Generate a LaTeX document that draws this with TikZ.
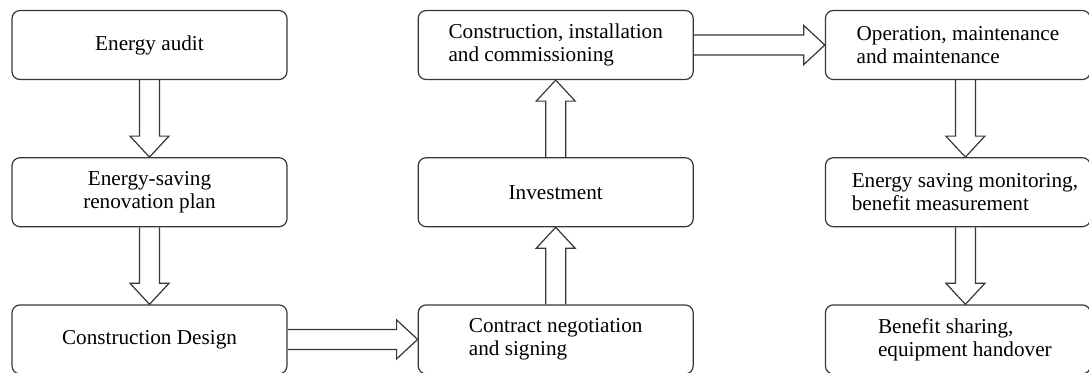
\documentclass[tikz,border=0pt]{standalone}
\usepackage{fontspec}
\setmainfont{Liberation Serif}
\usetikzlibrary{positioning, calc}
\definecolor{boxline}{RGB}{55,55,55}
\tikzset{
  stepbox/.style={
    rectangle, rounded corners=4pt,
    draw=boxline, line width=0.6pt,
    fill=white,
    minimum height=34.5pt, minimum width=137.5pt,
    align=center, font=\fontsize{10.6}{11.5}\selectfont, inner sep=2pt
  },
  stepbox-left/.style={stepbox, align=left},
  stepbox-narrow/.style={stepbox-left, minimum width=132.5pt},
  hollowarrow/.style={
    draw=boxline, line width=0.6pt, line join=miter
  }
}
% outline arrow from #1 to #2 (shaft 10pt, head 19.5pt wide, 10.5pt long)
\newcommand{\fatarrow}[2]{%
  \path ($(#2)!10.5pt!(#1)$) coordinate (hb);
  \draw[hollowarrow] ($(#1)!5pt!90:(#2)$) -- ($(hb)!5pt!90:(#2)$)
    -- ($(hb)!9.75pt!90:(#2)$) -- (#2) -- ($(hb)!9.75pt!-90:(#2)$)
    -- ($(hb)!5pt!-90:(#2)$) -- ($(#1)!5pt!-90:(#2)$);
}
\newcommand{\ind}{\hspace*{7pt}}

\begin{document}
\begin{tikzpicture}[x=0.5pt, y=-0.5pt, node distance=38.5pt and 65pt]
  \useasboundingbox (0,0) rectangle (1089,372);

  \node[stepbox] (audit) at (149.5,45) {Energy audit};
  \node[stepbox, below=of audit]  (plan)   {Energy-saving\\renovation plan};
  \node[stepbox, below=of plan]   (design) {Construction Design};

  \node[stepbox-left, right=of design]  (contract) {Contract negotiation\\and signing};
  \node[stepbox, above=of contract]     (invest)   {Investment};
  \node[stepbox-left, above=of invest]  (install)  {Construction, installation\\and commissioning};

  \node[stepbox-narrow, right=65.5pt of install] (operate) {Operation, maintenance\\and maintenance};
  \node[stepbox-narrow, below=of operate] (monitor) {\ind Energy saving monitoring,\\\ind benefit measurement};
  \node[stepbox-narrow, below=of monitor] (share)   {\ind Benefit sharing,\\\ind equipment handover};

  \coordinate (op-s)  at ([xshift=3.75pt]operate.south);
  \coordinate (mon-n) at ([xshift=3.75pt]monitor.north);
  \coordinate (mon-s) at ([xshift=3.75pt]monitor.south);
  \coordinate (sh-n)  at ([xshift=3.75pt]share.north);

  \fatarrow{audit.south}{plan.north}
  \fatarrow{plan.south}{design.north}
  \fatarrow{design.east}{contract.west}
  \fatarrow{contract.north}{invest.south}
  \fatarrow{invest.north}{install.south}
  \fatarrow{install.east}{operate.west}
  \fatarrow{op-s}{mon-n}
  \fatarrow{mon-s}{sh-n}
\end{tikzpicture}
\end{document}
